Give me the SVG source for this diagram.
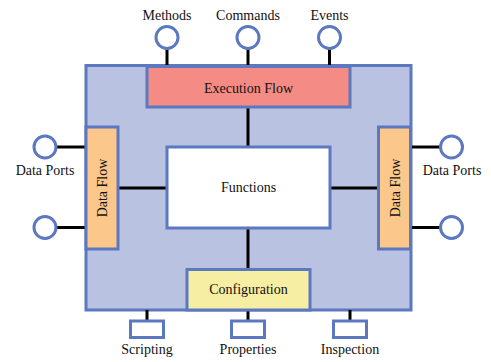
<svg xmlns="http://www.w3.org/2000/svg" width="491" height="362" viewBox="0 0 491 362">
<style>
.box{stroke:#5b78c0;stroke-width:3}
.port{fill:#fff;stroke:#5b78c0;stroke-width:3}
.ln{stroke:#000;stroke-width:3;fill:none}
text{font-family:"Liberation Serif","DejaVu Serif",serif;font-size:14px;fill:#111;text-anchor:middle}
</style>
<rect width="491" height="362" fill="#fff"/>
<g id="component"><rect class="box" x="86" y="65.5" width="325" height="244.5" fill="#b9c2e1"/></g>
<g id="connectors">
<line class="ln" x1="167" y1="49" x2="167" y2="66"/>
<line class="ln" x1="248" y1="49" x2="248" y2="66"/>
<line class="ln" x1="329.5" y1="49" x2="329.5" y2="66"/>
<line class="ln" x1="248" y1="107" x2="248" y2="147"/>
<line class="ln" x1="248" y1="228" x2="248" y2="269"/>
<line class="ln" x1="118" y1="188" x2="167" y2="188"/>
<line class="ln" x1="330" y1="188" x2="378" y2="188"/>
<line class="ln" x1="56" y1="147" x2="86" y2="147"/>
<line class="ln" x1="56" y1="227.5" x2="86" y2="227.5"/>
<line class="ln" x1="411" y1="147" x2="440" y2="147"/>
<line class="ln" x1="411" y1="227.5" x2="440" y2="227.5"/>
<line class="ln" x1="147" y1="310" x2="147" y2="321"/>
<line class="ln" x1="248" y1="310" x2="248" y2="321"/>
<line class="ln" x1="350" y1="310" x2="350" y2="321"/>
</g>
<g id="execution-flow"><rect class="box" x="147" y="66.5" width="203" height="40.5" fill="#f48c85"/><text x="248.5" y="93">Execution Flow</text></g>
<g id="functions"><rect class="box" x="167" y="147" width="163" height="81" fill="#fff"/><text x="248.5" y="192">Functions</text></g>
<g id="configuration"><rect class="box" x="187" y="269.5" width="123" height="40.5" fill="#f6eea3"/><text x="248.5" y="294">Configuration</text></g>
<g id="data-flow-left"><rect class="box" x="86" y="127" width="32" height="122" fill="#fbc78a"/><text transform="translate(107 188) rotate(-90)">Data Flow</text></g>
<g id="data-flow-right"><rect class="box" x="378.5" y="127" width="32" height="122" fill="#fbc78a"/><text transform="translate(399.5 188) rotate(-90)">Data Flow</text></g>
<g id="methods"><circle class="port" cx="167" cy="37.5" r="11"/><text x="167" y="20">Methods</text></g>
<g id="commands"><circle class="port" cx="248" cy="37.5" r="11"/><text x="248" y="20">Commands</text></g>
<g id="events"><circle class="port" cx="329.5" cy="37.5" r="11"/><text x="329.5" y="20">Events</text></g>
<g id="data-port-left-1"><circle class="port" cx="45" cy="147" r="11"/><text x="45" y="175">Data Ports</text></g>
<g id="data-port-left-2"><circle class="port" cx="45" cy="227.5" r="11"/></g>
<g id="data-port-right-1"><circle class="port" cx="451.5" cy="147" r="11"/><text x="452" y="175">Data Ports</text></g>
<g id="data-port-right-2"><circle class="port" cx="451.5" cy="227.5" r="11"/></g>
<g id="scripting"><rect class="port" x="130.5" y="321" width="33" height="16.5"/><text x="147" y="354">Scripting</text></g>
<g id="properties"><rect class="port" x="231.5" y="321" width="33" height="16.5"/><text x="248" y="354">Properties</text></g>
<g id="inspection"><rect class="port" x="333.5" y="321" width="33" height="16.5"/><text x="350" y="354">Inspection</text></g>
</svg>
